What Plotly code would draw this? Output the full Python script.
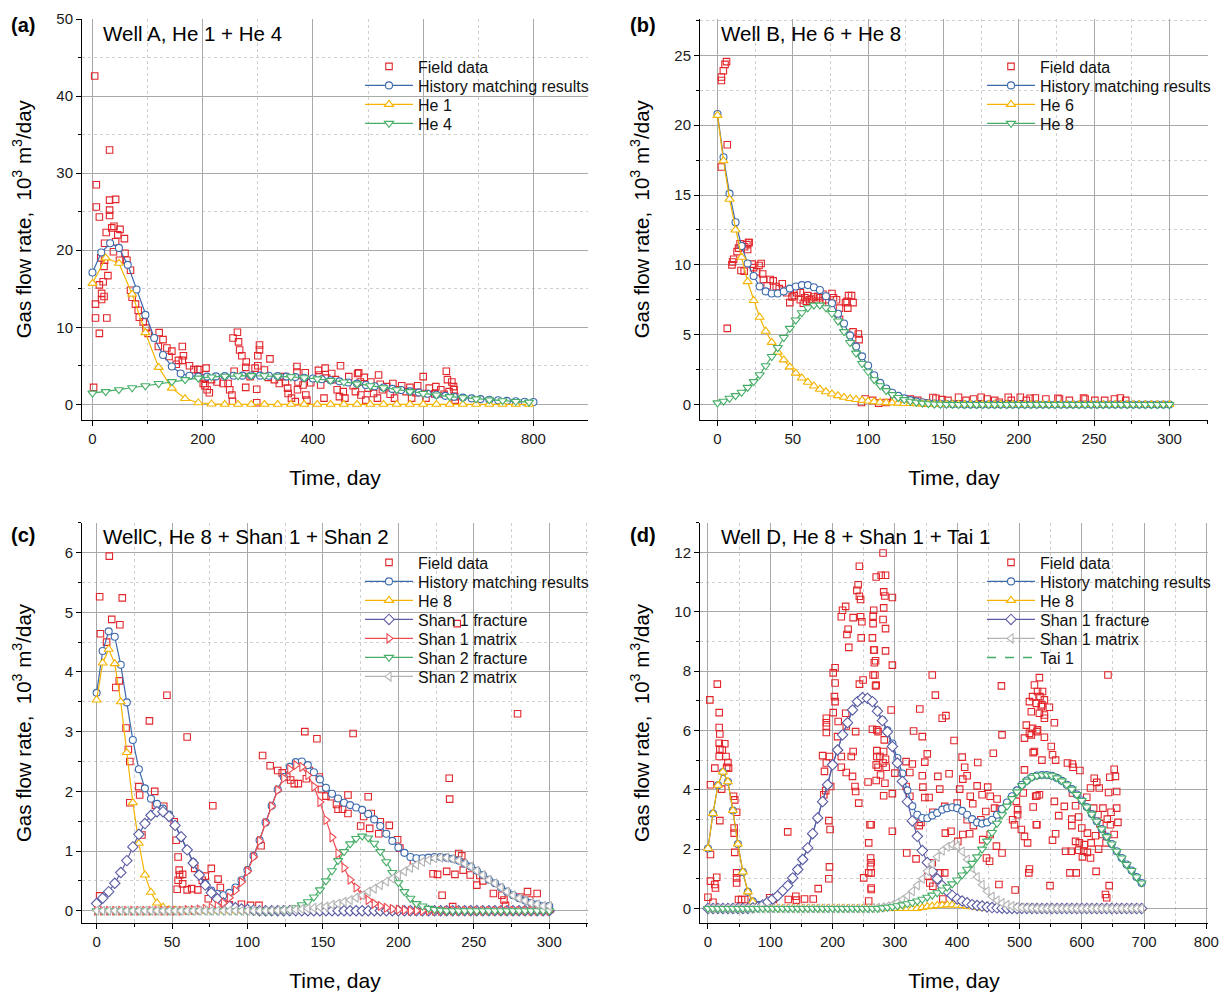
import plotly.graph_objects as go

FONT = "Liberation Sans, Arial, Helvetica, sans-serif"
C_FIELD = "#e2262b"
C_HM = "#3c6aad"
C_YEL = "#f4b400"
C_GRN = "#45ad66"
C_PUR = "#5b5ca3"
C_RTR = "#ef4a50"
C_GRY = "#b4b4b4"

# ---------------- Panel (a) Well A ----------------
t_a_hm = [0, 16, 32, 48, 64, 80, 96, 112, 128, 144, 160, 176, 192, 208, 224, 240, 256, 272, 288, 304,
          320, 336, 352, 368, 384, 400, 416, 432, 448, 464, 480, 496, 512, 528, 544, 560, 576, 592, 608, 624,
          640, 656, 672, 688, 704, 720, 736, 752, 768, 784, 800]
hm_a = [17.1, 19.7, 20.9, 20.3, 18.1, 14.9, 11.6, 8.6, 6.4, 4.9,
        4.0, 3.7, 3.6, 3.6, 3.62, 3.66, 3.7, 3.72, 3.73, 3.72,
        3.7, 3.66, 3.6, 3.53, 3.45, 3.35, 3.25, 3.12, 2.98, 2.84,
        2.68, 2.5, 2.35, 2.18, 2.0, 1.85, 1.68, 1.52, 1.38, 1.24,
        1.1, 0.98, 0.87, 0.77, 0.68, 0.6, 0.52, 0.45, 0.39, 0.34,
        0.3]
t_a_comp = [0, 24, 48, 72, 96, 120, 144, 168, 192, 216, 240, 264, 288, 312, 336, 360, 384, 408, 432, 456,
            480, 504, 528, 552, 576, 600, 624, 648, 672, 696, 720, 744, 768, 792]
he1_a = [15.7, 19.0, 18.3, 14.3, 9.3, 4.8, 2.1, 0.75, 0.2, 0.05,
         0, 0, 0, 0, 0, 0, 0, 0, 0, 0,
         0, 0, 0, 0, 0, 0, 0, 0, 0, 0,
         0, 0, 0, 0]
he4_a = [1.45, 1.65, 1.9, 2.15, 2.4, 2.7, 2.95, 3.2, 3.4, 3.55,
         3.65, 3.7, 3.72, 3.7, 3.65, 3.57, 3.45, 3.3, 3.1, 2.9,
         2.65, 2.4, 2.15, 1.9, 1.65, 1.4, 1.2, 1.0, 0.85, 0.7,
         0.58, 0.47, 0.37, 0.28]
field_a = [(4, 42.6), (7, 28.5), (7, 25.6), (12.5, 24.3), (2, 2.2), (5.5, 13.0), (5.5, 11.2), (12.5, 9.2),
           (15, 19.0), (12.5, 15.5), (16.6, 14.4), (16.6, 13.6), (21, 14.0), (19.4, 15.9), (21, 17.9), (22, 18.7),
           (22, 20.9), (25, 22.3), (26, 11.2), (28, 16.7), (31, 33.0), (31, 26.5), (31, 25.2), (31, 24.5),
           (35, 22.9), (38, 19.8), (39, 23.1), (42, 26.6), (42, 21.1), (46, 22.0), (50, 22.7), (49, 18.7),
           (58, 21.5), (59, 19.6), (62.5, 18.7), (69, 17.4), (69, 14.8), (72, 13.9), (78, 13.0), (83, 12.2),
           (85, 11.3), (92, 10.7), (97, 9.9), (101, 9.2), (121, 9.3), (119.5, 7.5), (128, 8.4), (135, 7.3),
           (144, 6.9), (139, 6.2), (163, 7.5), (165, 6.3), (156, 5.7), (163, 5.7), (152, 5.2), (176, 5.0),
           (184, 4.5), (191, 4.5), (194, 4.5), (206, 4.7), (203, 3.4), (204, 2.4), (201, 2.7), (208, 1.9),
           (212, 1.5), (216, 3.2), (226, 2.9), (237, 2.7), (246, 2.7), (249, 1.9), (253, 1.2), (254, 0.4),
           (257, 4.3), (255, 8.6), (263, 9.35), (265, 8.1), (267, 7.05), (271, 6.3), (279, 5.5), (278, 4.8),
           (278, 2.2), (286, 3.6), (295, 4.7), (298, 1.95), (303, 7.7), (303, 7.05), (300, 6.3), (300, 5.0),
           (298, 0.2), (312, 4.45), (322, 5.9), (319, 3.5), (330, 3.2), (339, 2.7), (346, 3.6), (350, 2.9),
           (354, 2.1), (355, 1.4), (361, 0.8), (368, 0.35), (371, 4.9), (371, 4.2), (373, 2.9), (372, 1.9),
           (382, 2.5), (386, 4.1), (387, 1.2), (389, 0.55), (396, 2.8), (410, 4.4), (411, 3.8), (414, 2.5),
           (420, 0.8), (422, 4.7), (425, 3.4), (434, 4.0), (441, 3.2), (444, 1.9), (450, 5.0), (448, 1.0),
           (455, 1.65), (458, 0.8), (465, 3.6), (473, 2.4), (477, 1.65), (481, 4.0), (483, 4.1), (486, 2.9),
           (487, 1.2), (493, 3.5), (496, 0.55), (500, 2.1), (505, 2.9), (510, 1.4), (517, 0.8), (519, 3.8),
           (522, 2.6), (526, 1.9), (534, 2.3), (540, 1.3), (545, 2.7), (548, 0.8), (555, 1.9), (561, 2.4),
           (569, 1.65), (576, 2.2), (579, 0.8), (587, 1.5), (590, 2.4), (600, 3.6), (604, 1.4), (605, 0.8),
           (611, 2.1), (621, 1.35), (623, 2.3), (632, 1.9), (638, 1.3), (642, 4.3), (644, 3.2), (647, 1.65),
           (652, 2.9), (655, 2.3), (656, 1.9), (657, 1.0), (658, 0.55)]

# ---------------- Panels (b) and (c) time grid ----------------
t_bc = [0, 4, 8, 12, 16, 20, 24, 28, 32, 36, 40, 44, 48, 52, 56, 60, 64, 68, 72, 76,
        80, 84, 88, 92, 96, 100, 104, 108, 112, 116, 120, 124, 128, 132, 136, 140, 144, 148, 152, 156,
        160, 164, 168, 172, 176, 180, 184, 188, 192, 196, 200, 204, 208, 212, 216, 220, 224, 228, 232, 236,
        240, 244, 248, 252, 256, 260, 264, 268, 272, 276, 280, 284, 288, 292, 296, 300]

# ---------------- Panel (b) Well B ----------------
hm_b = [20.8, 17.7, 15.1, 13.05, 11.35, 10.1, 9.2, 8.45, 8.1, 7.95,
        7.95, 8.1, 8.3, 8.45, 8.55, 8.55, 8.4, 8.2, 7.75, 7.25,
        6.5, 5.8, 4.95, 4.15, 3.45, 2.8, 2.1, 1.55, 1.15, 0.85,
        0.62, 0.44, 0.32, 0.23, 0.16, 0.11, 0.08, 0.06, 0.04, 0.03,
        0.02, 0.01, 0.01, 0.01, 0.01, 0.01, 0.01, 0.01, 0.01, 0.01,
        0.01, 0, 0, 0, 0, 0, 0, 0, 0, 0,
        0, 0, 0, 0, 0, 0, 0, 0, 0, 0,
        0, 0, 0, 0, 0, 0]
he6_b = [20.7, 17.45, 14.7, 12.5, 10.55, 8.8, 7.45, 6.25, 5.25, 4.45,
         3.75, 3.2, 2.7, 2.25, 1.9, 1.6, 1.33, 1.1, 0.92, 0.76,
         0.64, 0.52, 0.43, 0.36, 0.3, 0.25, 0.2, 0.17, 0.14, 0.12,
         0.1, 0.08, 0.07, 0.06, 0.05, 0.04, 0.035, 0.03, 0.025, 0.02,
         0.02, 0.01, 0.01, 0.01, 0.01, 0.01, 0.01, 0.01, 0.01, 0.01,
         0.01, 0, 0, 0, 0, 0, 0, 0, 0, 0,
         0, 0, 0, 0, 0, 0, 0, 0, 0, 0,
         0, 0, 0, 0, 0, 0]
he8_b = [0.12, 0.24, 0.45, 0.64, 0.88, 1.23, 1.64, 2.13, 2.78, 3.44,
         4.08, 4.8, 5.45, 6.05, 6.57, 6.93, 7.12, 7.12, 6.93, 6.52,
         5.98, 5.22, 4.44, 3.68, 2.94, 2.35, 1.78, 1.35, 1.0, 0.71,
         0.5, 0.35, 0.24, 0.16, 0.1, 0.06, 0.04, 0.02, 0.01, 0.01,
         0, 0, 0, 0, 0, 0, 0, 0, 0, 0,
         0, 0, 0, 0, 0, 0, 0, 0, 0, 0,
         0, 0, 0, 0, 0, 0, 0, 0, 0, 0,
         0, 0, 0, 0, 0, 0]
field_b = [(2.6, 23.2), (2.6, 23.45), (3.9, 23.9), (5, 24.35), (6, 24.55), (2.6, 17.0), (6.5, 18.6), (6.5, 5.45),
           (9.6, 10.0), (10, 10.2), (10.7, 10.4), (13, 10.95), (14, 11.2), (15, 11.5), (18, 11.3), (19.5, 11.45),
           (20, 11.1), (20.6, 11.6), (21, 11.6), (15.6, 9.6), (17.7, 9.55), (23, 10.05), (24, 9.8), (26, 9.5),
           (27.6, 9.95), (29, 10.1), (30, 9.35), (30.5, 8.95), (33, 8.5), (35, 8.95), (37, 8.85), (39, 8.45),
           (41, 8.3), (43, 8.65), (46, 8.0), (48, 7.3), (49.5, 7.7), (51, 7.8), (52.6, 8.0), (55, 8.0),
           (55, 7.5), (57, 7.25), (58, 7.65), (59, 7.4), (60, 7.8), (61, 7.5), (62.5, 7.55), (64, 7.7),
           (65.6, 7.4), (66.7, 7.75), (68, 7.65), (70, 7.9), (72, 7.5), (74, 7.3), (76, 7.95), (77, 7.65),
           (79, 7.5), (81, 6.9), (81, 6.1), (85, 7.3), (86, 7.4), (86.5, 6.9), (87, 7.8), (89, 7.8),
           (90, 7.3), (90, 5.2), (93.5, 5.05), (94, 4.65), (95.6, 0.15), (98, 0.4), (103, 0.3), (107, 0.1),
           (112, 0.15), (117, 0.3), (128, 0.4), (133, 0.3), (138, 0.1), (143, 0.5), (145, 0.45), (149, 0.35),
           (153, 0.3), (160, 0.52), (165, 0.3), (170, 0.4), (175, 0.52), (179, 0.4), (184, 0.3), (187, 0.17),
           (193, 0.52), (195, 0.3), (201, 0.52), (205, 0.3), (207.5, 0.45), (211, 0.47), (218, 0.4), (226, 0.45),
           (227, 0.4), (233.6, 0.3), (243, 0.47), (244, 0.4), (250.5, 0.3), (257, 0.3), (263.5, 0.4),
           (267.4, 0.47), (271, 0.3)]

# ---------------- Panel (c) Well C ----------------
hm_c = [3.65, 4.35, 4.68, 4.59, 4.12, 3.49, 2.86, 2.37, 2.05, 1.875,
        1.79, 1.71, 1.61, 1.43, 1.23, 1.02, 0.81, 0.61, 0.45, 0.34,
        0.28, 0.26, 0.3, 0.39, 0.51, 0.68, 0.92, 1.18, 1.48, 1.76,
        2.03, 2.24, 2.41, 2.49, 2.5, 2.44, 2.32, 2.2, 2.06, 1.96,
        1.88, 1.81, 1.77, 1.73, 1.69, 1.62, 1.53, 1.42, 1.29, 1.17,
        1.06, 0.97, 0.9, 0.88, 0.88, 0.89, 0.9, 0.9, 0.89, 0.87,
        0.84, 0.79, 0.74, 0.67, 0.6, 0.52, 0.46, 0.39, 0.32, 0.26,
        0.21, 0.17, 0.13, 0.11, 0.08, 0.08]
he8_c = [3.53, 4.15, 4.38, 4.14, 3.5, 2.65, 1.81, 1.13, 0.6, 0.31,
         0.13, 0.06, 0.02, 0.01, 0, 0, 0, 0, 0, 0,
         0, 0, 0, 0, 0, 0, 0, 0, 0, 0,
         0, 0, 0, 0, 0, 0, 0, 0, 0, 0,
         0, 0, 0, 0, 0, 0, 0, 0, 0, 0,
         0, 0, 0, 0, 0, 0, 0, 0, 0, 0,
         0, 0, 0, 0, 0, 0, 0, 0, 0, 0,
         0, 0, 0, 0, 0, 0]
shan1f_c = [0.12, 0.21, 0.32, 0.46, 0.64, 0.84, 1.07, 1.28, 1.46, 1.6,
            1.66, 1.66, 1.58, 1.43, 1.24, 1.02, 0.8, 0.6, 0.43, 0.3,
            0.2, 0.13, 0.08, 0.05, 0.03, 0.02, 0.01, 0, 0, 0,
            0, 0, 0, 0, 0, 0, 0, 0, 0, 0,
            0, 0, 0, 0, 0, 0, 0, 0, 0, 0,
            0, 0, 0, 0, 0, 0, 0, 0, 0, 0,
            0, 0, 0, 0, 0, 0, 0, 0, 0, 0,
            0, 0, 0, 0, 0, 0]
shan1m_c = [0, 0, 0, 0, 0, 0, 0, 0, 0, 0,
            0, 0, 0, 0, 0, 0.01, 0.01, 0.02, 0.03, 0.05,
            0.08, 0.13, 0.22, 0.34, 0.48, 0.66, 0.9, 1.17, 1.47, 1.75,
            2.02, 2.22, 2.37, 2.44, 2.41, 2.27, 2.08, 1.82, 1.52, 1.23,
            0.96, 0.72, 0.52, 0.39, 0.26, 0.18, 0.12, 0.08, 0.05, 0.03,
            0.02, 0.01, 0, 0, 0, 0, 0, 0, 0, 0,
            0, 0, 0, 0, 0, 0, 0, 0, 0, 0,
            0, 0, 0, 0, 0, 0]
shan2f_c = [0, 0, 0, 0, 0, 0, 0, 0, 0, 0,
            0, 0, 0, 0, 0, 0, 0, 0, 0, 0,
            0, 0, 0, 0, 0, 0, 0, 0, 0, 0,
            0.005, 0.01, 0.02, 0.05, 0.1, 0.15, 0.23, 0.35, 0.5, 0.67,
            0.84, 0.99, 1.12, 1.21, 1.25, 1.22, 1.13, 0.99, 0.82, 0.64,
            0.47, 0.32, 0.21, 0.12, 0.08, 0.04, 0.02, 0.01, 0, 0,
            0, 0, 0, 0, 0, 0, 0, 0, 0, 0,
            0, 0, 0, 0, 0, 0]
shan2m_c = [0, 0, 0, 0, 0, 0, 0, 0, 0, 0,
            0, 0, 0, 0, 0, 0, 0, 0, 0, 0,
            0, 0, 0, 0, 0, 0, 0, 0, 0, 0,
            0.005, 0.01, 0.015, 0.02, 0.03, 0.04, 0.05, 0.06, 0.07, 0.1,
            0.12, 0.15, 0.18, 0.22, 0.26, 0.32, 0.37, 0.43, 0.49, 0.54,
            0.6, 0.66, 0.72, 0.77, 0.82, 0.85, 0.88, 0.89, 0.89, 0.87,
            0.84, 0.79, 0.74, 0.67, 0.6, 0.52, 0.46, 0.39, 0.32, 0.26,
            0.21, 0.17, 0.13, 0.11, 0.08, 0.08]
field_c = [(2, 5.26), (8.4, 5.94), (2.5, 4.64), (6.6, 4.5), (10, 4.88), (15.4, 4.79), (17, 5.24), (12.7, 3.74),
           (15, 3.85), (19.5, 3.06), (21, 2.7), (22, 2.5), (22, 1.81), (28, 2.08), (28.5, 1.94), (30, 1.27),
           (35, 3.18), (38.5, 2.0), (39, 1.77), (44.5, 1.75), (46.6, 3.61), (51.4, 1.49), (52.7, 1.18), (54, 0.9),
           (54.7, 0.68), (55, 0.6), (54, 0.51), (53.4, 0.36), (57, 0.61), (57, 0.45), (60, 2.91), (60, 0.35),
           (63, 0.37), (65, 0.71), (67, 0.35), (70, 0.51), (72, 0.58), (74, 0.2), (76, 0.71), (77, 1.76),
           (80.5, 0.53), (82, 0.39), (88, 0.1), (96, 0.11), (102, 0.09), (107.6, 0.09), (109, 1.09), (110, 2.6),
           (115, 2.43), (120, 2.35), (123, 2.31), (126, 2.24), (128.6, 2.19), (131, 2.13), (133.7, 2.13),
           (138, 3.0), (139, 2.21), (141, 2.35), (146, 2.88), (147.6, 2.24), (149, 2.03), (152, 1.92),
           (155.4, 1.91), (159, 1.78), (160, 1.7), (163, 1.7), (166.6, 1.94), (166.6, 1.63), (170, 2.97),
           (175, 1.42), (177, 1.58), (180, 1.91), (181, 1.38), (182, 1.63), (187, 1.29), (188, 1.49), (194, 1.43),
           (199.5, 1.19), (201, 1.05), (210, 0.83), (223, 0.62), (226, 0.61), (229, 0.26), (232, 0.66),
           (233.7, 2.22), (234, 1.87), (236, 0.07), (237.5, 0.61), (240, 0.96), (242, 0.92), (243, 0.68),
           (247.6, 0.6), (252, 0.43), (254, 0.59), (256, 0.5), (263, 0.29), (268.6, 0.26), (270, 0.18),
           (271, 0.09), (279, 3.3), (280.5, 0.23), (285.6, 0.32), (287, 0.18), (292, 0.29), (239, 4.81), (2, 0.25)]

# ---------------- Panel (d) Well D ----------------
t_d = [0, 8, 16, 24, 32, 40, 48, 56, 64, 72, 80, 88, 96, 104, 112, 120, 128, 136, 144, 152,
       160, 168, 176, 184, 192, 200, 208, 216, 224, 232, 240, 248, 256, 264, 272, 280, 288, 296, 304, 312,
       320, 328, 336, 344, 352, 360, 368, 376, 384, 392, 400, 408, 416, 424, 432, 440, 448, 456, 464, 472,
       480, 488, 496, 504, 512, 520, 528, 536, 544, 552, 560, 568, 576, 584, 592, 600, 608, 616, 624, 632,
       640, 648, 656, 664, 672, 680, 688, 696]
hm_d = [2.02, 3.2, 4.15, 4.6, 4.27, 3.3, 2.17, 1.23, 0.56, 0.24,
        0.12, 0.14, 0.22, 0.32, 0.43, 0.6, 0.77, 1.03, 1.31, 1.65,
        2.04, 2.52, 3.05, 3.6, 4.17, 4.84, 5.34, 5.85, 6.26, 6.69,
        6.97, 7.1, 7.08, 6.97, 6.66, 6.35, 6.0, 5.56, 5.07, 4.55,
        3.98, 3.45, 3.16, 3.05, 3.04, 3.13, 3.22, 3.33, 3.38, 3.41,
        3.38, 3.29, 3.16, 3.01, 2.9, 2.86, 2.9, 2.99, 3.16, 3.35,
        3.57, 3.78, 3.98, 4.17, 4.31, 4.43, 4.48, 4.5, 4.5, 4.47,
        4.4, 4.3, 4.17, 4.02, 3.84, 3.64, 3.42, 3.18, 2.94, 2.68,
        2.42, 2.17, 1.93, 1.7, 1.48, 1.28, 1.06, 0.86]
he8_d = [2.02, 3.2, 4.15, 4.6, 4.27, 3.3, 2.17, 1.23, 0.56, 0.22,
         0.07, 0.02, 0, 0, 0, 0, 0, 0, 0, 0,
         0, 0, 0, 0, 0, 0, 0, 0, 0, 0,
         0, 0, 0, 0, 0, 0, 0, 0, 0, 0,
         0, 0, 0, 0.03, 0.06, 0.08, 0.1, 0.11, 0.12, 0.12,
         0.11, 0.1, 0.08, 0.06, 0.04, 0.02, 0, 0, 0, 0,
         0, 0, 0, 0, 0, 0, 0, 0, 0, 0,
         0, 0, 0, 0, 0, 0, 0, 0, 0, 0,
         0, 0, 0, 0, 0, 0, 0, 0]
shan1f_d = [0, 0, 0, 0, 0, 0, 0, 0, 0, 0.02,
            0.05, 0.12, 0.22, 0.32, 0.43, 0.6, 0.77, 1.03, 1.31, 1.65,
            2.04, 2.52, 3.05, 3.6, 4.17, 4.84, 5.34, 5.85, 6.26, 6.69,
            6.97, 7.1, 7.08, 6.97, 6.65, 6.33, 5.95, 5.46, 4.9, 4.28,
            3.6, 2.95, 2.43, 1.95, 1.55, 1.25, 1.0, 0.77, 0.58, 0.44,
            0.32, 0.25, 0.19, 0.13, 0.1, 0.08, 0.05, 0.03, 0.02, 0.01,
            0, 0, 0, 0, 0, 0, 0, 0, 0, 0,
            0, 0, 0, 0, 0, 0, 0, 0, 0, 0,
            0, 0, 0, 0, 0, 0, 0, 0]
shan1m_d = [0, 0, 0, 0, 0, 0, 0, 0, 0, 0,
            0, 0, 0, 0, 0, 0, 0, 0, 0, 0,
            0, 0, 0, 0, 0, 0, 0, 0, 0, 0,
            0, 0, 0, 0.01, 0.02, 0.04, 0.07, 0.12, 0.2, 0.3,
            0.42, 0.58, 0.78, 1.0, 1.26, 1.5, 1.74, 1.95, 2.08, 2.15,
            2.1, 1.92, 1.65, 1.36, 1.06, 0.8, 0.58, 0.4, 0.27, 0.18,
            0.12, 0.08, 0.05, 0.03, 0.02, 0.01, 0, 0, 0, 0,
            0, 0, 0, 0, 0, 0, 0, 0, 0, 0,
            0, 0, 0, 0, 0, 0, 0, 0]
tai1_d = [0, 0, 0, 0, 0, 0, 0, 0, 0, 0,
          0, 0, 0, 0, 0, 0, 0, 0, 0, 0,
          0, 0, 0, 0, 0, 0, 0, 0, 0, 0,
          0, 0, 0, 0, 0, 0.02, 0.04, 0.06, 0.09, 0.12,
          0.16, 0.2, 0.25, 0.31, 0.38, 0.45, 0.53, 0.62, 0.72, 0.83,
          0.96, 1.13, 1.32, 1.52, 1.74, 2.0, 2.27, 2.56, 2.87, 3.16,
          3.45, 3.7, 3.93, 4.14, 4.29, 4.42, 4.48, 4.5, 4.5, 4.47,
          4.4, 4.3, 4.17, 4.02, 3.84, 3.64, 3.42, 3.18, 2.94, 2.68,
          2.42, 2.17, 1.93, 1.7, 1.48, 1.28, 1.06, 0.86]
field_d = [(3, 7.03), (15, 7.56), (18, 6.6), (18, 6.1), (19, 5.88), (18, 5.57), (27, 5.55), (19, 5.37), (23, 5.34),
           (18, 5.12), (29, 5.12), (32, 4.92), (30, 4.76), (33, 4.73), (11, 4.73), (4, 4.17), (22, 4.02), (41, 3.78),
           (43, 3.66), (46, 3.24), (42, 2.71), (42, 2.54), (19, 2.96), (43, 1.89), (4, 1.82), (46, 1.2), (46, 1.03),
           (46, 0.86), (14, 1.05), (4, 0.92), (11, 0.81), (12, 0.69), (0, 0.38), (8, 0.21), (49, 0.3), (54, 0.3),
           (59, 0.3), (99, 0.36), (105, 0.3), (128, 2.58), (129, 0.3), (141, 0.41), (142, 0.28), (155, 0.32),
           (169, 0.32), (177, 0.67), (194, 1.0), (195, 1.4), (196, 2.66), (194, 2.96), (186, 3.83), (189, 3.97),
           (197, 4.11), (187, 4.62), (190, 4.9), (184, 5.15), (195, 5.12), (190, 5.93), (190, 6.13), (190, 6.26),
           (190, 6.41), (201, 6.6), (204, 6.97), (203, 7.14), (201, 7.94), (204, 8.11), (204, 7.6), (209, 6.3),
           (208, 5.79), (214, 5.12), (214, 4.76), (222, 4.58), (221, 6.58), (222, 6.15), (214, 9.83), (216, 10.05),
           (221, 10.18), (223, 9.23), (225, 9.41), (226, 8.8), (230, 5.12), (233, 5.29), (232, 4.45), (233, 9.8),
           (237, 5.96), (239, 10.72), (241, 10.91), (243, 11.53), (243, 10.52), (245, 10.41), (245, 9.83),
           (247, 9.66), (246, 9.12), (243, 7.56), (249, 7.7), (236, 4.11), (237, 3.94), (242, 3.55), (258, 2.21),
           (260, 2.82), (264, 6.04), (265, 7.87), (265, 9.6), (266, 10.05), (264, 9.12), (267, 8.71), (270, 11.17),
           (267, 8.28), (269, 7.5), (257, 4.26), (261, 1.7), (261, 1.42), (258, 1.2), (250, 1.03), (262, 0.69),
           (258, 0.25), (271, 6.02), (271, 5.12), (270, 4.84), (270, 4.31),
           (281, 11.98), (278, 11.23), (285, 11.23), (282, 10.67), (284, 10.53), (296, 10.48), (265, 9.85),
           (282, 10.13), (281, 9.74), (285, 9.43), (266, 8.71), (285, 8.68), (269, 8.35), (296, 8.2), (268, 7.87),
           (270, 7.53), (294, 6.69), (273, 5.96), (283, 5.68), (271, 5.32), (282, 5.29), (276, 5.12), (285, 5.03),
           (281, 4.9), (273, 4.76), (286, 4.76), (300, 4.56), (277, 4.5), (284, 4.22), (282, 3.8), (296, 3.87),
           (262, 2.82), (296, 2.6), (262, 1.54), (262, 1.2), (262, 0.64), (360, 7.87), (365, 7.19), (340, 6.72),
           (376, 6.41), (382, 6.5), (330, 5.98), (344, 5.79), (395, 5.66), (352, 5.21), (318, 4.95), (328, 4.87),
           (348, 4.93), (324, 4.58), (344, 4.47), (369, 4.45), (387, 4.54), (408, 5.1), (412, 4.76), (416, 4.47),
           (433, 4.92), (409, 4.36), (318, 4.11), (345, 4.09), (372, 4.02), (404, 4.02), (432, 4.13), (449, 4.09),
           (421, 3.78), (440, 3.83), (324, 3.78), (348, 3.74), (355, 3.74), (380, 3.44), (361, 3.24), (400, 3.55),
           (425, 3.53), (453, 3.78), (464, 3.69), (460, 3.38), (446, 3.27), (468, 3.35), (416, 2.99), (426, 2.79),
           (438, 2.99), (342, 2.9), (339, 2.79), (381, 2.54), (390, 2.6), (409, 2.49), (420, 2.52), (401, 2.26),
           (441, 2.32), (453, 2.49), (463, 2.1), (472, 1.87), (452, 1.59), (447, 1.7), (319, 1.87), (334, 1.67),
           (360, 1.54), (353, 1.09), (372, 1.2), (380, 1.2), (356, 0.86), (361, 0.75), (377, 0.32), (467, 0.81),
           (493, 0.62), (516, 1.33), (515, 1.2), (471, 7.5), (472, 5.85), (458, 5.23), (508, 4.67), (506, 3.89),
           (495, 3.61), (497, 3.33), (497, 3.16), (489, 2.99), (492, 2.82), (527, 2.82), (503, 2.66), (508, 2.43),
           (513, 2.21), (526, 3.78), (532, 3.83), (532, 7.78), (524, 7.53), (529, 7.31), (537, 7.31), (521, 7.14),
           (533, 7.14), (540, 7.03), (516, 6.97), (527, 6.91), (536, 6.86), (519, 6.63), (532, 6.58), (540, 6.52),
           (511, 6.18), (521, 6.07), (529, 6.02), (508, 5.74), (516, 5.9), (524, 5.29), (536, 5.0),
           (535, 6.8), (548, 6.78), (540, 6.41), (556, 6.26), (528, 5.96), (540, 5.77), (519, 5.85), (551, 5.46),
           (522, 5.25), (553, 5.18), (558, 5.0), (577, 4.9), (585, 4.87), (597, 4.65), (586, 4.76), (652, 4.69),
           (645, 4.42), (654, 4.45), (620, 4.39), (624, 4.25), (614, 4.06), (628, 4.06), (643, 3.91), (656, 3.94),
           (608, 3.75), (585, 3.89), (528, 3.8), (556, 3.61), (522, 3.42), (572, 3.44), (590, 3.46), (619, 3.38),
           (634, 3.38), (647, 3.24), (656, 3.38), (595, 3.08), (563, 3.13), (584, 3.01), (641, 3.01), (658, 2.9),
           (626, 3.16), (629, 2.86), (528, 2.82), (584, 2.79), (600, 2.71), (646, 2.82), (558, 2.52), (609, 2.54),
           (622, 2.45), (633, 2.49), (652, 2.49), (553, 2.3), (590, 2.26), (596, 2.21), (604, 2.15), (615, 2.21),
           (639, 2.21), (574, 1.93), (583, 1.93), (595, 1.96), (603, 1.93), (609, 1.89), (627, 2.0), (614, 1.7),
           (601, 1.74), (581, 1.2), (591, 1.2), (623, 1.25), (549, 0.77), (644, 0.77), (638, 0.47), (640, 0.36),
           (642, 7.87)]

for xs, ys in [(t_a_hm, hm_a), (t_a_comp, he1_a), (t_a_comp, he4_a), (t_bc, hm_b), (t_bc, he6_b), (t_bc, he8_b),
               (t_bc, hm_c), (t_bc, he8_c), (t_bc, shan1f_c), (t_bc, shan1m_c), (t_bc, shan2f_c), (t_bc, shan2m_c),
               (t_d, hm_d), (t_d, he8_d), (t_d, shan1f_d), (t_d, shan1m_d), (t_d, tai1_d)]:
    assert len(xs) == len(ys), (len(xs), len(ys))

W, H = 1228, 994


def px(v):
    return v / W


def py(v):
    return 1 - v / H


fig = go.Figure()

# one small legend per legend row, so the rows can be spaced like the original
legstyle = dict(font=dict(family=FONT, size=16, color="#111"), bgcolor="rgba(0,0,0,0)",
                borderwidth=0, itemwidth=48, xanchor="left", yanchor="middle")
legend_layouts = {}
_count = [0]


def new_legend(text_left, row_y):
    _count[0] += 1
    k = _count[0]
    lid = "legend" if k == 1 else "legend%d" % k
    legend_layouts[lid] = dict(x=px(text_left - 58), y=py(row_y), **legstyle)
    return lid


def add_field(pairs, xa, ya, leg):
    fig.add_trace(go.Scatter(
        x=[p[0] for p in pairs], y=[p[1] for p in pairs], mode="markers", name="Field data",
        marker=dict(symbol="square-open", size=6.5, color=C_FIELD, line=dict(width=1.1, color=C_FIELD)),
        xaxis=xa, yaxis=ya, legend=leg))


def add_model(x, y, name, color, symbol, size, xa, ya, leg, show=True):
    fig.add_trace(go.Scatter(
        x=x, y=y, mode="lines+markers", name=name, showlegend=show,
        line=dict(color=color, width=1.2),
        marker=dict(symbol=symbol, size=size, color="white", line=dict(color=color, width=1.1)),
        xaxis=xa, yaxis=ya, legend=leg))


TOP_ROWS = [66.5, 85.5, 104.5, 123.5]
BOT_ROWS = [562.5, 581.5, 600.5, 619.5, 638.5, 657.5, 676.5]
L_TXT, R_TXT = 418, 1040

# (a)
add_field(field_a, "x", "y", new_legend(L_TXT, TOP_ROWS[0]))
add_model(t_a_hm, hm_a, "History matching results", C_HM, "circle", 7, "x", "y", new_legend(L_TXT, TOP_ROWS[1]))
add_model(t_a_comp, he1_a, "He 1", C_YEL, "triangle-up", 8, "x", "y", new_legend(L_TXT, TOP_ROWS[2]))
add_model(t_a_comp, he4_a, "He 4", C_GRN, "triangle-down", 8, "x", "y", new_legend(L_TXT, TOP_ROWS[3]))
# (b)
add_field(field_b, "x2", "y2", new_legend(R_TXT, TOP_ROWS[0]))
add_model(t_bc, hm_b, "History matching results", C_HM, "circle", 7, "x2", "y2", new_legend(R_TXT, TOP_ROWS[1]))
add_model(t_bc, he6_b, "He 6", C_YEL, "triangle-up", 8, "x2", "y2", new_legend(R_TXT, TOP_ROWS[2]))
add_model(t_bc, he8_b, "He 8", C_GRN, "triangle-down", 8, "x2", "y2", new_legend(R_TXT, TOP_ROWS[3]))
# (c)
add_field(field_c, "x3", "y3", new_legend(L_TXT, BOT_ROWS[0]))
add_model(t_bc, hm_c, "History matching results", C_HM, "circle", 7, "x3", "y3", new_legend(L_TXT, BOT_ROWS[1]))
add_model(t_bc, he8_c, "He 8", C_YEL, "triangle-up", 8, "x3", "y3", new_legend(L_TXT, BOT_ROWS[2]))
add_model(t_bc, shan1f_c, "Shan 1 fracture", C_PUR, "diamond", 8, "x3", "y3", new_legend(L_TXT, BOT_ROWS[3]))
add_model(t_bc, shan1m_c, "Shan 1 matrix", C_RTR, "triangle-right", 8, "x3", "y3", new_legend(L_TXT, BOT_ROWS[4]))
add_model(t_bc, shan2f_c, "Shan 2 fracture", C_GRN, "triangle-down", 8, "x3", "y3", new_legend(L_TXT, BOT_ROWS[5]))
add_model(t_bc, shan2m_c, "Shan 2 matrix", C_GRY, "triangle-left", 8, "x3", "y3", new_legend(L_TXT, BOT_ROWS[6]))
# (d)
add_field(field_d, "x4", "y4", new_legend(R_TXT, BOT_ROWS[0]))
add_model(t_d, hm_d, "History matching results", C_HM, "circle", 7, "x4", "y4", new_legend(R_TXT, BOT_ROWS[1]))
add_model(t_d, he8_d, "He 8", C_YEL, "triangle-up", 8, "x4", "y4", new_legend(R_TXT, BOT_ROWS[2]))
add_model(t_d, shan1f_d, "Shan 1 fracture", C_PUR, "diamond", 8, "x4", "y4", new_legend(R_TXT, BOT_ROWS[3]))
add_model(t_d, shan1m_d, "Shan 1 matrix", C_GRY, "triangle-left", 8, "x4", "y4", new_legend(R_TXT, BOT_ROWS[4]))
tai_leg = new_legend(R_TXT, BOT_ROWS[5])
add_model(t_d, tai1_d, "Tai 1", C_GRN, "triangle-down", 8, "x4", "y4", tai_leg, show=False)
fig.add_trace(go.Scatter(x=[None], y=[None], mode="lines", name="Tai 1",
                         line=dict(color=C_GRN, width=1.5, dash="dash"),
                         xaxis="x4", yaxis="y4", legend=tai_leg))

tickfont = dict(family=FONT, size=15, color="#1a1a1a")
XTITLE = "Time, day"
YTITLE = "Gas flow rate,  10<sup>3</sup> m<sup>3</sup>/day"


def set_axes(n, xdom, ydom, xr, yr, xd, xmd, yd, ymd, y_standoff):
    s = "" if n == 1 else str(n)
    common = dict(showline=True, linecolor="black", linewidth=1, ticks="outside", ticklen=5,
                  tickcolor="black", tickwidth=1, showgrid=True, gridcolor="#a9a9a9", gridwidth=1,
                  zeroline=False, tickfont=tickfont, tick0=0, automargin=False)
    fig.layout["xaxis" + s] = dict(
        domain=xdom, range=xr, dtick=xd, anchor="y" + s,
        title=dict(text=XTITLE, font=dict(family=FONT, size=21, color="black"), standoff=24),
        minor=dict(dtick=xmd, tick0=0, showgrid=True, gridcolor="#cfcfcf", griddash="dot",
                   ticks="outside", ticklen=3, tickcolor="black"), **common)
    fig.layout["yaxis" + s] = dict(
        domain=ydom, range=yr, dtick=yd, anchor="x" + s,
        title=dict(text=YTITLE, font=dict(family=FONT, size=20.5, color="black"), standoff=y_standoff),
        minor=dict(dtick=ymd, tick0=0, showgrid=True, gridcolor="#cfcfcf", griddash="dot",
                   ticks="outside", ticklen=3, tickcolor="black"), **common)


top_y = [py(419.5), py(19)]
bot_y = [py(923.3), py(522.7)]
left_x = [px(82), px(588)]
right_x = [px(700), px(1208)]
set_axes(1, left_x, top_y, [-19, 899], [-1.97, 50.0], 200, 100, 10, 5, 19)
set_axes(2, right_x, top_y, [-11.6, 325.6], [-1.07, 27.6], 50, 25, 5, 2.5, 19)
set_axes(3, left_x, bot_y, [-9.7, 325.7], [-0.21, 6.5], 50, 25, 1, 0.5, 27)
set_axes(4, right_x, bot_y, [-12.8, 802.6], [-0.5, 13.0], 100, 50, 2, 1, 19)

ann = []
for lab, title, lx, tx, ly, ty in [
    ("(a)", "Well A, He 1 + He 4", 9, 101, 25, 33),
    ("(b)", "Well B, He 6 + He 8", 628, 719, 25, 33),
    ("(c)", "WellC, He 8 + Shan 1 + Shan 2", 9, 101, 535, 536),
    ("(d)", "Well D, He 8 + Shan 1 + Tai 1", 628, 719, 535, 536),
]:
    ann.append(dict(text="<b>" + lab + "</b>", x=px(lx), y=py(ly), xref="paper", yref="paper",
                    xanchor="left", yanchor="middle", showarrow=False,
                    font=dict(family=FONT, size=20, color="black")))
    ann.append(dict(text=title, x=px(tx), y=py(ty), xref="paper", yref="paper",
                    xanchor="left", yanchor="middle", showarrow=False,
                    font=dict(family=FONT, size=20.5, color="black")))

fig.update_layout(
    width=W, height=H, margin=dict(l=0, r=0, t=0, b=0),
    paper_bgcolor="white", plot_bgcolor="white",
    annotations=ann, showlegend=True, hovermode=False,
    font=dict(family=FONT, size=15, color="black"),
    **legend_layouts,
)

fig.write_html("out.html")
